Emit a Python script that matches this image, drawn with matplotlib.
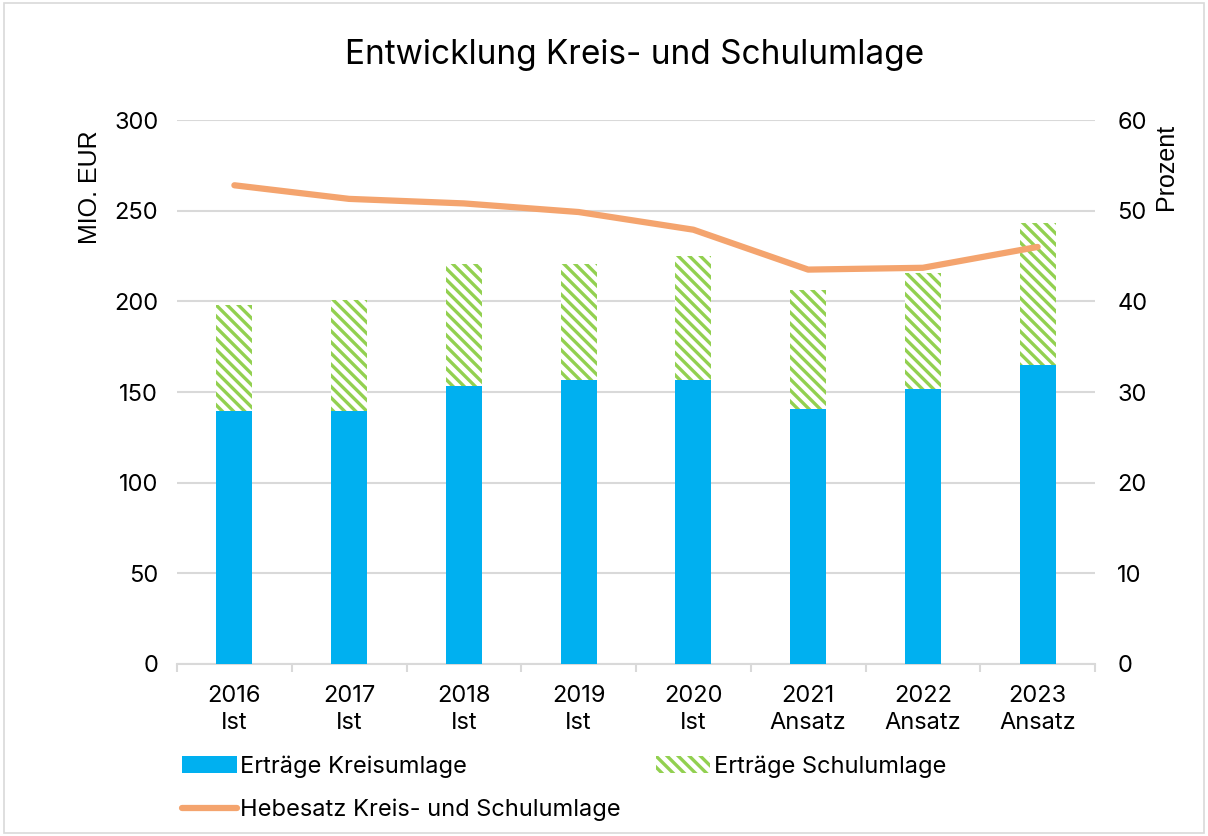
import matplotlib
matplotlib.use("Agg")
import matplotlib.pyplot as plt
import numpy as np
from matplotlib.lines import Line2D
from matplotlib.patches import Patch, Rectangle

# Daten
jahre = ["2016\nIst", "2017\nIst", "2018\nIst", "2019\nIst", "2020\nIst",
         "2021\nAnsatz", "2022\nAnsatz", "2023\nAnsatz"]
kreisumlage = [139.5, 139.5, 153.3, 156.6, 156.6, 140.6, 151.6, 164.9]
schulumlage = [58.5, 61.2, 67.3, 64.0, 68.4, 65.4, 64.0, 78.3]
hebesatz = [52.8, 51.3, 50.8, 49.85, 47.9, 43.5, 43.7, 46.0]

BLAU = "#00B0F0"
GRUEN = "#92D050"
ORANGE = "#F4A46E"
GRID = "#D9D9D9"

plt.rcParams["font.family"] = ["Inter", "DejaVu Sans"]
plt.rcParams["hatch.linewidth"] = 2.4
plt.rcParams["hatch.color"] = GRUEN

fig = plt.figure(figsize=(12.08, 8.36), dpi=100)
ax = fig.add_axes([177 / 1208, 1 - 664 / 836, (1095 - 177) / 1208, (664 - 120) / 836])
ax2 = ax.twinx()

x = np.arange(len(jahre))
breite = 0.315

ax.bar(x, kreisumlage, width=breite, color=BLAU, zorder=3)
ax.bar(x, schulumlage, width=breite, bottom=kreisumlage, facecolor="white",
       edgecolor=GRUEN, hatch="\\\\\\", linewidth=0, zorder=3)

ax.set_ylim(0, 300)
ax.set_yticks(np.arange(0, 301, 50))
ax.set_xlim(-0.5, len(jahre) - 0.5)
ax.set_xticks(x)
ax.set_xticklabels(jahre, fontsize=17, linespacing=1.32)
ax.set_xticks(np.arange(-0.5, len(jahre), 1), minor=True)
ax.tick_params(axis="x", which="major", length=0, pad=15)
ax.tick_params(axis="x", which="minor", length=6, color=GRID, width=1.5)
ax.tick_params(axis="y", length=0, labelsize=17, pad=13.5)
ax.grid(axis="y", color=GRID, linewidth=1.5, zorder=0)
ax.set_axisbelow(True)
for s in ["top", "left", "right"]:
    ax.spines[s].set_visible(False)
ax.spines["bottom"].set_color(GRID)
ax.spines["bottom"].set_linewidth(1.5)
ax.set_ylabel("MIO. EUR", fontsize=18, family=["Liberation Sans"])

ax2.plot(x, hebesatz, color=ORANGE, linewidth=4.5, solid_capstyle="round", zorder=4)
ax2.set_ylim(0, 60)
ax2.set_yticks(np.arange(0, 61, 10))
ax2.tick_params(axis="y", length=0, labelsize=17, pad=16)
for s in ["top", "left", "right", "bottom"]:
    ax2.spines[s].set_visible(False)
ax2.set_ylabel("Prozent", fontsize=18, family=["Liberation Sans"], rotation=90)
ax2.yaxis.set_label_coords(1.064, 0.914)
ax.yaxis.set_label_coords(-0.082, 0.877)

fig.text(635 / 1208, 1 - 55 / 836, "Entwicklung Kreis- und Schulumlage",
         ha="center", va="center", fontsize=24)

# Rahmen
fig.patches.append(Rectangle((0.003, 0.003), 0.994, 0.994, transform=fig.transFigure,
                             fill=False, edgecolor=GRID, linewidth=1.2))

handles = [
    Patch(facecolor=BLAU, edgecolor="none"),
    Line2D([0], [0], color=ORANGE, linewidth=4.5, solid_capstyle="round"),
    Patch(facecolor="white", edgecolor=GRUEN, hatch="\\\\\\", linewidth=0),
]
labels = ["Erträge Kreisumlage", "Hebesatz Kreis- und Schulumlage", "Erträge Schulumlage"]
fig.legend(handles, labels, ncol=2, loc="upper left",
           bbox_to_anchor=(161 / 1208, 1 - 734 / 836), frameon=False,
           fontsize=17, handlelength=2.3, handleheight=0.75, handletextpad=0.15,
           columnspacing=1.5, labelspacing=0.88)

fig.savefig("out.png", dpi=100)
